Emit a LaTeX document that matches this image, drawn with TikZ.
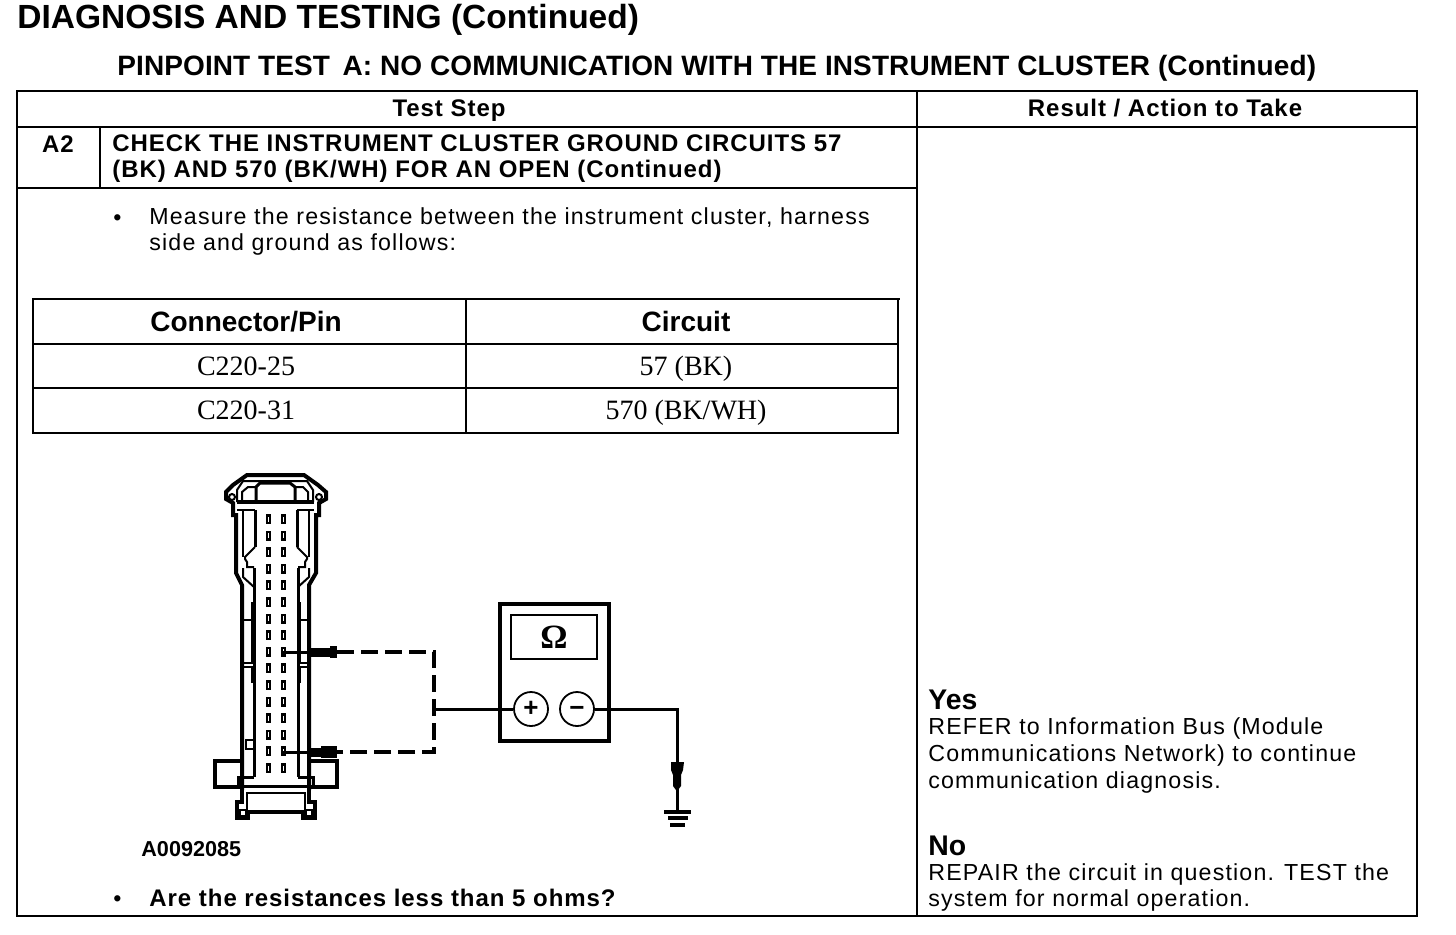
\documentclass[tikz,border=0pt]{standalone}
\usepackage{fontspec}
\setmainfont{Liberation Sans}
\newfontfamily\cellfont{Liberation Serif}
\usetikzlibrary{positioning}

\begin{document}
\begin{tikzpicture}[x=0.5pt, y=-0.5pt,
                    line cap=butt,
                    rule/.style={line width=1pt},
                    body/.style={anchor=base west, inner sep=0pt, align=left,
                        font=\fontsize{11.6}{12.6}\selectfont\addfontfeature{LetterSpace=5}},
                    bold/.style={body, font=\fontsize{12}{12.6}\selectfont\bfseries\addfontfeature{LetterSpace=4}},
                    head/.style={anchor=base, inner sep=0pt,
                        font=\fontsize{12}{14}\selectfont\bfseries\addfontfeature{LetterSpace=4}},
                    big head/.style={anchor=base, inner sep=0pt, font=\fontsize{14}{16}\selectfont\bfseries},
                    answer/.style={body, font=\fontsize{14.2}{15}\selectfont\bfseries},
                    cell/.style={anchor=base, inner sep=0pt,
                        font=\fontsize{14}{15}\cellfont},
                    wall/.style={line width=2pt},
                    mid wall/.style={line width=1.5pt},
                    thin wall/.style={line width=1pt},
                    lead/.style={line width=1.5pt},
                    dash lead/.style={line width=1.8pt, dash pattern=on 8.5pt off 3.5pt},
                    jack/.style={circle, draw, fill=white, line width=0.9pt, minimum size=17pt, inner sep=0pt,
                        font=\fontsize{13}{13}\selectfont\bfseries}]

    \useasboundingbox (0,0) rectangle (1456,934);

    % page headings
    \node[anchor=base west, inner sep=0pt, font=\fontsize{16.75}{18}\selectfont\bfseries] (title)
        at (17,28) {DIAGNOSIS AND TESTING (Continued)};
    \node[anchor=base west, inner sep=0pt, font=\fontsize{14}{16}\selectfont\bfseries\addfontfeature{LetterSpace=0.35}] (pinpoint)
        at (117,75) {PINPOINT TEST\, A: NO COMMUNICATION WITH THE INSTRUMENT CLUSTER (Continued)};

    % outer table
    \draw[rule] (17,91) rectangle (1417,916);
    \draw[rule] (917,91) -- (917,916);
    \draw[rule] (17,127) -- (1417,127);
    \draw[rule] (17,188) -- (917,188);
    \draw[rule] (100,127) -- (100,188);
    \node[head] (teststep) at (449,116) {Test Step};
    \node[head] (result) at (1165,116) {Result / Action to Take};
    \node[head] (stepno) at (58,152) {A2};
    \node[bold] (stephead) at (112,177) {CHECK THE INSTRUMENT CLUSTER GROUND CIRCUITS 57\\(BK) AND 570 (BK/WH) FOR AN OPEN (Continued)};

    \node[body] (bullet1) at (113,225) {•};
    \node[body] (measure) at (149,250) {Measure the resistance between the instrument cluster, harness\\side and ground as follows:};

    % pin table
    \draw[rule] (33,299) rectangle (898,433);
    \draw[line width=1.2pt] (33,299) -- (900,299);
    \draw[line width=1.2pt] (33,344) -- (898,344);
    \draw[rule] (33,388) -- (898,388);
    \draw[rule] (466,299) -- (466,433);
    \node[big head] (connpin) at (246,331) {Connector/Pin};
    \node[big head] (circuit) at (686,331) {Circuit};
    \node[cell] (pina) at (246,375) {C220-25};
    \node[cell] (wirea) at (686,375) {57 (BK)};
    \node[cell] (pinb) at (246,419) {C220-31};
    \node[cell] (wireb) at (686,419) {570 (BK/WH)};

    % connector, outer body
    \draw[wall] (242,790) -- (242,585) -- (236,573) -- (236,515) -- (233,515) -- (233,503) -- (226,499) -- (226,492) -- (233,485) -- (247,475)
        -- (304,475) -- (318,485) -- (326,492) -- (326,499) -- (319,503) -- (319,515) -- (316,515) -- (316,573) -- (309,585) -- (309,790);
    \draw[thin wall] (232,497) circle (3);
    \draw[thin wall] (319,497) circle (3);
    \draw[wall] (237,502) -- (314,502);
    \draw[thin wall] (237,510) -- (255,510);
    \draw[thin wall] (297,510) -- (314,510);
    \draw[thin wall] (237,502) -- (237,490) -- (243,481) -- (307,481) -- (313,490) -- (313,502);
    \draw[thin wall] (242,502) -- (242,492) -- (248,487) -- (256,487);
    \draw[thin wall] (308,502) -- (308,492) -- (303,487) -- (295,487);
    \draw[mid wall] (256,502) -- (256,487) -- (260,483) -- (290,483) -- (295,487) -- (295,502);
    \draw[mid wall] (255,510) -- (255,547);
    \draw[mid wall] (297,510) -- (297,547);
    \draw[mid wall] (254,568) -- (254,777);
    \draw[mid wall] (298,568) -- (298,777);
    \draw[thin wall] (243,510) -- (243,557);
    \draw[thin wall] (309,510) -- (309,557);
    \draw[thin wall] (255,547) -- (245,557) -- (245,559) -- (247,562) -- (247,567) -- (254,567);
    \draw[thin wall] (297,547) -- (307,557) -- (307,559) -- (305,562) -- (305,567) -- (298,567);
    \draw[thin wall] (243,568) -- (243,577) -- (254,587);
    \draw[thin wall] (309,568) -- (309,577) -- (298,587);
    % side latches
    \draw[thin wall] (252,602) -- (252,663) -- (243,663);
    \draw[thin wall] (243,667) -- (252,667) -- (252,682) -- (254,682);
    \draw[thin wall] (243,620) -- (252,620);
    \draw[thin wall] (300,602) -- (300,663) -- (309,663);
    \draw[thin wall] (309,667) -- (300,667) -- (300,682) -- (298,682);
    \draw[thin wall] (300,620) -- (309,620);
    \draw[thin wall] (246,740) rectangle (254,749);

    % pin cavities
    \foreach \row in {0,...,15} {
        \fill (265.5,519+16.6*\row-5) rectangle (271,519+16.6*\row+5);
        \fill (280.5,519+16.6*\row-5) rectangle (286,519+16.6*\row+5);
        \fill[white] (268.4,519+16.6*\row-2.5) rectangle (269,519+16.6*\row+2.5);
        \fill[white] (283.4,519+16.6*\row-2.5) rectangle (284,519+16.6*\row+2.5);
    }

    % connector, lower end
    \draw[wall] (242,761) -- (215,761) -- (215,787) -- (242,787);
    \draw[wall] (309,761) -- (337,761) -- (337,787) -- (309,787);
    \draw[mid wall] (254,777) -- (238,777) -- (238,786) -- (313,786) -- (313,777) -- (298,777);
    \draw[wall] (242,786) -- (242,802) -- (237,802) -- (237,818) -- (248,818) -- (248,812) -- (303,812) -- (303,818) -- (315,818) -- (315,802) -- (309,802) -- (309,786);
    \draw[thin wall] (247,812) -- (247,793) -- (305,793) -- (305,812);
    \draw[thin wall] (240,810) rectangle (246,816);
    \draw[thin wall] (306,810) rectangle (312,816);

    \node[anchor=base west, inner sep=0pt, font=\fontsize{10.8}{12}\selectfont\bfseries] (figno) at (141,856) {A0092085};

    % meter
    \node[draw, line width=2pt, minimum width=54.5pt, minimum height=68.5pt, inner sep=0pt] (meter) at (554.5,672.5) {};
    \node[draw, line width=0.9pt, minimum width=43pt, minimum height=22pt, inner sep=0pt,
          font=\fontsize{17}{17}\cellfont\bfseries] (display) at (554,637) {Ω};
    \node[jack] (plus) at (531,709) {+};
    \node[jack] (minus) at (577,709) {\vphantom{+}−};

    % leads
    \coordinate (pinhi) at (283,652);
    \coordinate (pinlo) at (283,752);
    \coordinate (cornerhi) at (434,652);
    \coordinate (cornerlo) at (434,752);
    \coordinate (tee) at (434,709);
    \coordinate (gndpt) at (677,709);
    \coordinate (gnd) at (677,811);
    \draw[lead] (pinhi) -- (312,652);
    \draw[lead] (pinlo) -- (312,752);
    \fill (310,652-4.5) rectangle (330,652+4.5);
    \fill (330,652-6) rectangle (337,652+6);
    \fill (310,752-4.5) rectangle (321,752+4.5);
    \fill (321,752-6) rectangle (337,752+6);
    \draw[dash lead] (337,652) -- (cornerhi) -- (cornerlo) -- (337,752);
    \draw[lead] (tee) -- (plus);
    \draw[lead] (minus) -- (gndpt) -- (gnd);
    \fill (671,762) -- (684,762) -- (683,770) -- (681,775) -- (681,786) -- (678,790) -- (676,790) -- (673,786) -- (673,775) -- (671,770) -- cycle;
    \draw[wall] (664,812) -- (691,812);
    \draw[wall] (668,818) -- (688,818);
    \draw[wall] (670,825) -- (685,825);

    % result column
    \node[answer] (yes) at (928,709) {Yes};
    \node[body, font=\fontsize{11.6}{13.5}\selectfont\addfontfeature{LetterSpace=5}] (refer) at (928,788)
        {REFER to Information Bus (Module\\Communications Network) to continue\\communication diagnosis.};
    \node[answer] (no) at (928,855) {No};
    \node[body] (repair) at (928,906) {REPAIR the circuit in question. TEST the\\system for normal operation.};

    \node[body] (bullet2) at (113,906) {•};
    \node[bold] (question) at (149,906) {Are the resistances less than 5 ohms?};
\end{tikzpicture}
\end{document}
